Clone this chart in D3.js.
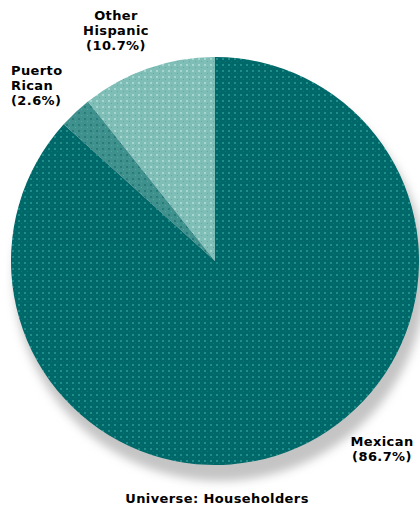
<!DOCTYPE html>
<html>
<head>
<meta charset="utf-8">
<script src="https://cdn.jsdelivr.net/npm/d3@7"></script>
<style>
  html, body { margin: 0; padding: 0; background: #ffffff; }
  svg { display: block; }
  .lbl { font-family: "DejaVu Sans", Verdana, sans-serif; font-weight: bold; font-size: 13px; letter-spacing: 0.4px; fill: #000; }
</style>
</head>
<body>
<svg id="chart" width="420" height="512"></svg>
<script>
// Hispanic householders by origin (Universe: Householders)
const groups = ["Mexican", "Puerto Rican", "Other Hispanic"];
const shares = [86.7, 2.6, 10.7];
const labelLines = [
  ["Mexican", "(86.7%)"],
  ["Puerto", "Rican", "(2.6%)"],
  ["Other", "Hispanic", "(10.7%)"]
];
const baseColors = ["#006868", "#3f918e", "#7fbdb7"];
const dotColors  = ["#1f8f8c", "#2a7c7a", "#a5d6d0"];
const dotColors2 = ["#0d7a78", "#56a6a2", "#63a8a2"];

const svg = d3.select("#chart");
const cx = 215, cy = 261, R = 204;

const defs = svg.append("defs");

// soft drop shadow under the pie
const blur = defs.append("filter").attr("id", "shadowBlur")
  .attr("x", "-20%").attr("y", "-20%").attr("width", "140%").attr("height", "140%");
blur.append("feGaussianBlur").attr("stdDeviation", 5);

// dotted fill texture for every slice
groups.forEach((g, i) => {
  const p = defs.append("pattern")
    .attr("id", "pat" + i)
    .attr("patternUnits", "userSpaceOnUse")
    .attr("width", 6).attr("height", 6);
  p.append("rect").attr("width", 6).attr("height", 6).attr("fill", baseColors[i]);
  p.append("rect").attr("x", 1).attr("y", 1).attr("width", 2).attr("height", 2).attr("fill", dotColors[i]);
  p.append("rect").attr("x", 4).attr("y", 4).attr("width", 1).attr("height", 1).attr("fill", dotColors2[i]);
});

svg.append("circle")
  .attr("cx", cx + 5).attr("cy", cy + 14)
  .attr("r", R + 2)
  .attr("fill", "#c4c4c4")
  .attr("filter", "url(#shadowBlur)");

const pie = d3.pie().sort(null).value(d => d).startAngle(0).endAngle(2 * Math.PI);
const arcs = pie(shares);
const arc = d3.arc().innerRadius(0).outerRadius(R);

const g = svg.append("g").attr("transform", `translate(${cx},${cy})`);
g.selectAll("path.slice")
  .data(arcs)
  .join("path")
  .attr("class", "slice")
  .attr("d", arc)
  .attr("fill", (d, i) => `url(#pat${i})`);

// slice labels
const labelPos = [
  { x: 382, y: 446, anchor: "middle" },
  { x: 11, y: 75, anchor: "start" },
  { x: 116, y: 20, anchor: "middle" }
];
const lineH = 15;
labelLines.forEach((lines, i) => {
  const t = svg.append("text")
    .attr("class", "lbl")
    .attr("text-anchor", labelPos[i].anchor);
  lines.forEach((ln, j) => {
    t.append("tspan").attr("x", labelPos[i].x).attr("y", labelPos[i].y + j * lineH).text(ln);
  });
});

svg.append("text")
  .attr("class", "lbl")
  .attr("x", 217).attr("y", 503)
  .attr("text-anchor", "middle")
  .text("Universe:  Householders");
</script>
</body>
</html>
